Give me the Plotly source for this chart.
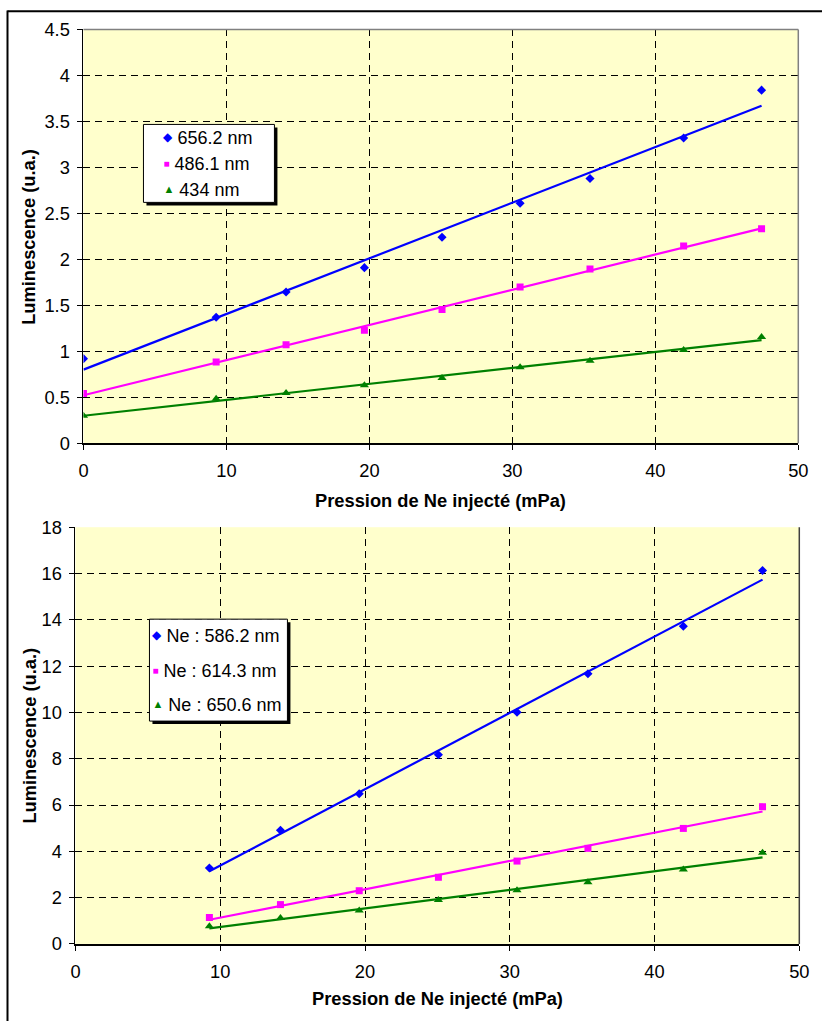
import numpy as np
import plotly.graph_objects as go

# ---------------- data ----------------
# top chart (H lines)
x_top = [0, 9.28, 14.17, 19.65, 25.08, 30.54, 35.43, 41.98, 47.43]
y_656 = [0.92, 1.37, 1.645, 1.91, 2.24, 2.61, 2.88, 3.32, 3.84]
y_486 = [0.54, 0.884, 1.072, 1.228, 1.456, 1.70, 1.895, 2.145, 2.333]
y_434 = [0.30, 0.485, 0.547, 0.63, 0.71, 0.826, 0.898, 1.014, 1.155]
names_top = ["656.2 nm", "486.1 nm", "434 nm"]

# bottom chart (Ne lines)
x_bot = [9.25, 14.16, 19.6, 25.07, 30.5, 35.4, 41.99, 47.46]
y_586 = [3.28, 4.91, 6.49, 8.17, 10.01, 11.67, 13.72, 16.13]
y_614 = [1.14, 1.70, 2.30, 2.88, 3.58, 4.13, 4.99, 5.93]
y_650 = [0.76, 1.12, 1.44, 1.90, 2.32, 2.66, 3.22, 3.94]
names_bot = ["Ne : 586.2 nm", "Ne : 614.3 nm", "Ne : 650.6 nm"]

x_ticks = [0, 10, 20, 30, 40, 50]
y_ticks_top = [0, 0.5, 1, 1.5, 2, 2.5, 3, 3.5, 4, 4.5]
y_ticks_bot = [0, 2, 4, 6, 8, 10, 12, 14, 16, 18]

x_title = "Pression de Ne injecté (mPa)"
y_title = "Luminescence (u.a.)"

colors = ["#0000FF", "#FF00FF", "#008000"]
symbols = ["diamond", "square", "triangle-up"]
msizes = [7, 7, 8]
# legend glyphs matching the marker symbols
glyphs = ["\u25C6", "\u25A0", "\u25B2"]
glyph_sizes = [12, 10, 11]

W, H = 822, 1021
FONT = "Liberation Sans, Arial, sans-serif"
FS = 18.3
FS_LEG = 18

# page-to-screen compensation (measured from the rendered output)
SX, OX = 0.982, 5.5
SY, OY = 0.980, 9.5


def px(x):
    return (x - OX) / SX / W


def py(y):
    return 1 - (y - OY) / SY / H


def leg_name(i, label):
    return ('<span style="font-size:%dpx;color:%s;baseline-shift:3px">%s</span> %s'
            % (glyph_sizes[i], colors[i], glyphs[i], label))


fig = go.Figure()


def add_block(xs, series, names, xa, ya, legend_id, grp):
    for i, ys in enumerate(series):
        coef = np.polyfit(np.array(xs), np.array(ys), 1)
        xl = np.array([min(xs), max(xs)])
        fig.add_trace(go.Scatter(x=xl, y=np.polyval(coef, xl), mode="lines",
                                 line=dict(color=colors[i], width=2.2),
                                 showlegend=False, hoverinfo="skip",
                                 xaxis=xa, yaxis=ya))
    for i, ys in enumerate(series):
        fig.add_trace(go.Scatter(x=xs, y=ys, mode="markers", name=names[i],
                                 marker=dict(color=colors[i], symbol=symbols[i], size=msizes[i],
                                             line=dict(width=0)),
                                 showlegend=False, xaxis=xa, yaxis=ya))
    for i in range(len(series)):
        fig.add_trace(go.Scatter(x=[None], y=[None], mode="markers", name=leg_name(i, names[i]),
                                 marker=dict(color="rgba(0,0,0,0)", size=1),
                                 legend=legend_id, legendgroup="%s%d" % (grp, i),
                                 hoverinfo="skip", xaxis=xa, yaxis=ya))


add_block(x_top, [y_656, y_486, y_434], names_top, "x", "y", "legend", "t")
add_block(x_bot, [y_586, y_614, y_650], names_bot, "x2", "y2", "legend2", "b")

tickfont = dict(family=FONT, size=FS, color="black")
grid = dict(showgrid=True, gridcolor="black", gridwidth=1, griddash="7px,5px",
            zeroline=False, ticks="outside", ticklen=5, tickcolor="black",
            showline=True, linecolor="black", tickfont=tickfont)

top_dom_x = [px(84), px(799)]
top_dom_y = [py(442), py(28)]
bot_dom_x = [px(76), px(800)]
bot_dom_y = [py(943), py(526)]

fig.update_layout(
    width=W, height=H,
    margin=dict(l=0, r=0, t=0, b=0),
    paper_bgcolor="white",
    plot_bgcolor="#FFFFCC",
    font=dict(family=FONT, color="black"),
    xaxis=dict(domain=top_dom_x, anchor="y", range=[0, 50], tickvals=x_ticks,
               linewidth=2, ticklabelstandoff=5, **grid),
    yaxis=dict(domain=top_dom_y, anchor="x", range=[0, 4.5], tickvals=y_ticks_top,
               linewidth=1, ticklabelstandoff=4, **grid),
    xaxis2=dict(domain=bot_dom_x, anchor="y2", range=[0, 50], tickvals=x_ticks,
                linewidth=2, ticklabelstandoff=5, **grid),
    yaxis2=dict(domain=bot_dom_y, anchor="x2", range=[0, 18], tickvals=y_ticks_bot,
                linewidth=1, ticklabelstandoff=4, **grid),
    legend=dict(x=px(124), y=py(117), xanchor="left", yanchor="top",
                bgcolor="rgba(0,0,0,0)", borderwidth=0,
                font=dict(family=FONT, size=FS_LEG, color="black"),
                tracegroupgap=0, itemwidth=30),
    legend2=dict(x=px(113), y=py(616), xanchor="left", yanchor="top",
                 bgcolor="rgba(0,0,0,0)", borderwidth=0,
                 font=dict(family=FONT, size=FS_LEG, color="black"),
                 tracegroupgap=8, itemwidth=30),
)

ann = []
for xc, yc in [(441.5, 499), (438, 998)]:
    ann.append(dict(text="<b>%s</b>" % x_title, x=px(xc), y=py(yc), xref="paper", yref="paper",
                    showarrow=False, xanchor="center", yanchor="middle",
                    font=dict(family=FONT, size=FS, color="black")))
for xc, yc in [(29, 235), (30, 734)]:
    ann.append(dict(text="<b>%s</b>" % y_title, x=px(xc), y=py(yc), xref="paper", yref="paper",
                    showarrow=False, xanchor="center", yanchor="middle", textangle=-90,
                    font=dict(family=FONT, size=FS, color="black")))
fig.update_layout(annotations=ann)


def rect(x0, y0, x1, y1, fill, line_color, lw):
    return dict(type="rect", xref="paper", yref="paper", x0=px(x0), x1=px(x1),
                y0=py(y1), y1=py(y0), fillcolor=fill,
                line=dict(color=line_color, width=lw), layer="above")


shapes = [
    dict(type="line", xref="paper", yref="paper", x0=px(8), x1=px(8), y0=py(1030), y1=py(9),
         line=dict(color="black", width=2)),
    dict(type="line", xref="paper", yref="paper", x0=px(8), x1=px(830), y0=py(9.8), y1=py(9.8),
         line=dict(color="black", width=2)),
    dict(type="line", xref="paper", yref="paper", x0=top_dom_x[0], x1=top_dom_x[1],
         y0=top_dom_y[1], y1=top_dom_y[1], line=dict(color="#808080", width=1.5), layer="above"),
    dict(type="line", xref="paper", yref="paper", x0=top_dom_x[1], x1=top_dom_x[1],
         y0=top_dom_y[0], y1=top_dom_y[1], line=dict(color="#808080", width=1.5), layer="above"),
    dict(type="line", xref="paper", yref="paper", x0=bot_dom_x[1], x1=bot_dom_x[1],
         y0=bot_dom_y[0], y1=bot_dom_y[1], line=dict(color="#404040", width=1.5), layer="above"),
    # legend shadows and boxes
    rect(147, 126, 278, 204, "black", "black", 0),
    rect(144, 123, 275, 201, "white", "black", 1),
    rect(153, 621, 291, 723, "black", "black", 0),
    rect(150, 618, 288, 720, "white", "black", 1),
]
fig.update_layout(shapes=shapes)

fig.write_html("out.html", config={"displayModeBar": False},
               post_script="document.body.style.margin='0';document.body.style.overflow='hidden';")
